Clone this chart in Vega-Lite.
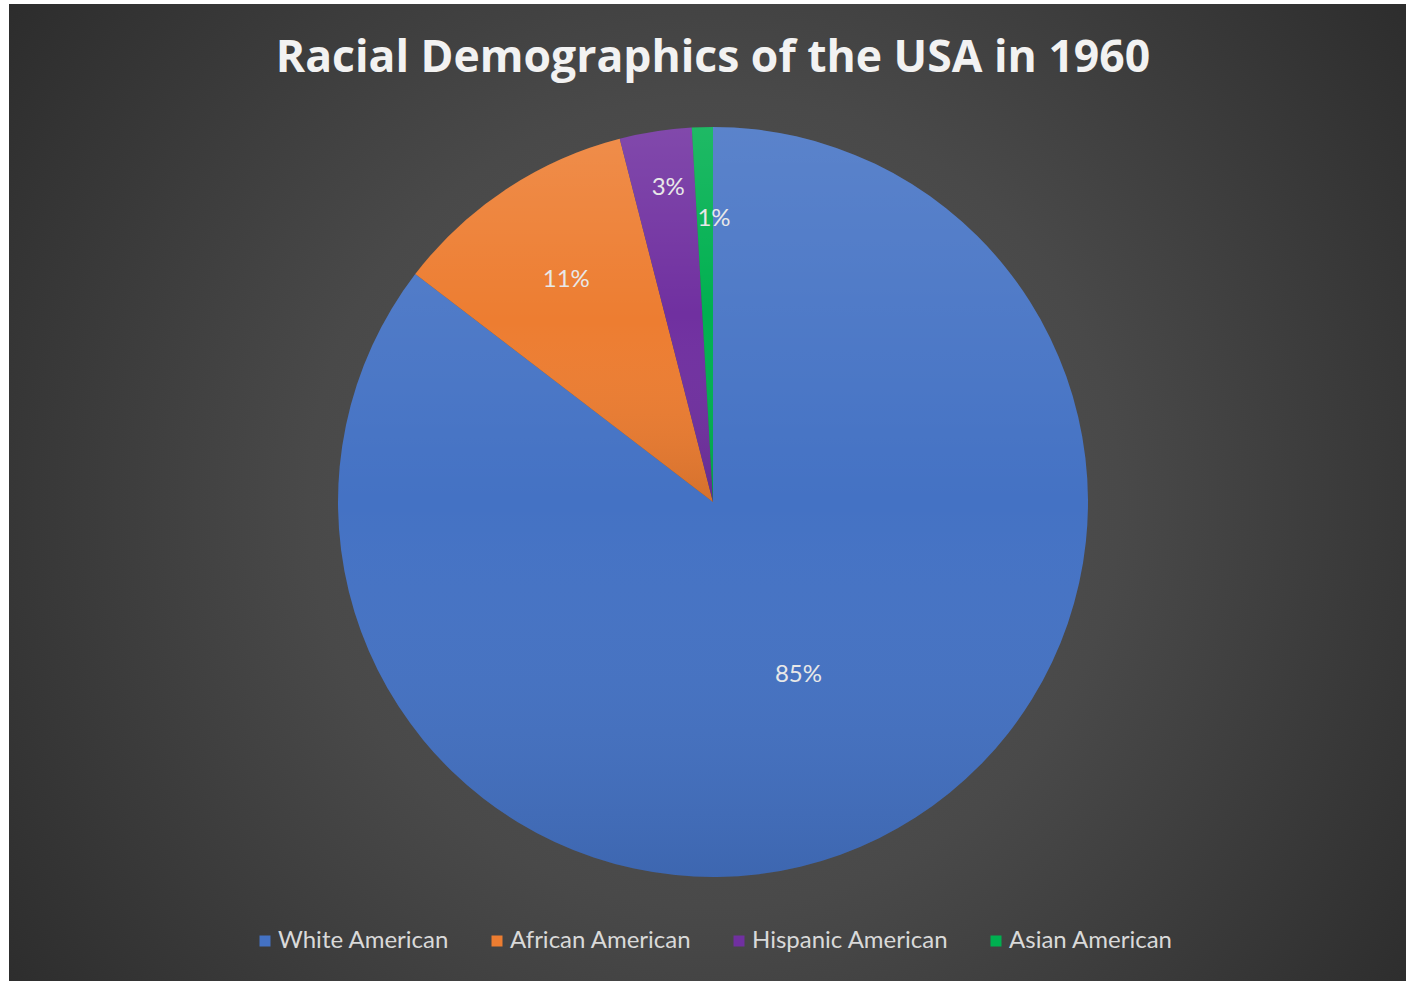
{
  "$schema": "https://vega.github.io/schema/vega-lite/v6.json",
  "width": 1408,
  "height": 996,
  "autosize": {"type": "none"},
  "padding": {"left": 9, "top": 4, "right": -11, "bottom": -19},
  "background": "#ffffff",
  "view": {
    "stroke": null,
    "fill": {
      "gradient": "radial",
      "x1": 0.5, "y1": 0.5, "r1": 0,
      "x2": 0.5, "y2": 0.5, "r2": 0.72,
      "stops": [
        {"offset": 0, "color": "#575757"},
        {"offset": 0.4, "color": "#494949"},
        {"offset": 0.7, "color": "#363636"},
        {"offset": 1, "color": "#232323"}
      ]
    }
  },
  "title": {
    "text": "Racial Demographics of the USA in 1960",
    "orient": "top",
    "anchor": "middle",
    "font": "Open Sans",
    "fontSize": 44.5,
    "fontWeight": "bold",
    "color": "#f2f2f2",
    "baseline": "alphabetic",
    "offset": -112
  },
  "data": {
    "values": [
      {"race": "White American", "share": 0.854, "rank": 1},
      {"race": "African American", "share": 0.106, "rank": 2},
      {"race": "Hispanic American", "share": 0.031, "rank": 3},
      {"race": "Asian American", "share": 0.009, "rank": 4}
    ]
  },
  "encoding": {
    "theta": {"field": "share", "type": "quantitative", "stack": true},
    "order": {"field": "rank", "type": "ordinal"},
    "detail": {"field": "race", "type": "nominal"}
  },
  "layer": [
    {
      "mark": {"type": "arc", "outerRadius": 375, "strokeWidth": 0},
      "encoding": {
        "color": {
          "field": "race",
          "type": "nominal",
          "scale": {
            "domain": ["White American", "African American", "Hispanic American", "Asian American"],
            "range": ["#4472c4", "#ed7d31", "#7030a0", "#00b050"]
          },
          "legend": {
            "title": null,
            "orient": "none",
            "legendX": 244,
            "legendY": 925,
            "direction": "horizontal",
            "columns": 4,
            "columnPadding": 35,
            "symbolType": "square",
            "symbolSize": 121,
            "symbolStrokeWidth": 0,
            "labelFont": "Lato",
            "labelFontSize": 24,
            "labelColor": "#d9d9d9",
            "labelOffset": 1,
            "labelLimit": 400
          }
        }
      }
    },
    {
      "mark": {
        "type": "arc",
        "outerRadius": 375,
        "strokeWidth": 0,
        "fill": {
          "gradient": "linear",
          "x1": 0, "y1": 0, "x2": 0, "y2": 1,
          "stops": [
            {"offset": 0, "color": "rgba(255,255,255,0.12)"},
            {"offset": 0.5, "color": "rgba(255,255,255,0)"},
            {"offset": 1, "color": "rgba(0,0,0,0.1)"}
          ]
        }
      }
    },
    {
      "mark": {
        "type": "text",
        "font": "Lato",
        "fontSize": 24,
        "radius": {"expr": "datum.share > 0.5 ? 193 : datum.share > 0.05 ? 266 : datum.share > 0.02 ? 318 : 283"},
        "dx": {"expr": "datum.share < 0.02 ? 9 : datum.share < 0.05 ? 4 : 0"}
      },
      "encoding": {
        "text": {"field": "share", "type": "quantitative", "format": ".0%"},
        "color": {"value": "#e8e8e8"}
      }
    }
  ],
  "config": {
    "view": {"stroke": null}
  }
}
